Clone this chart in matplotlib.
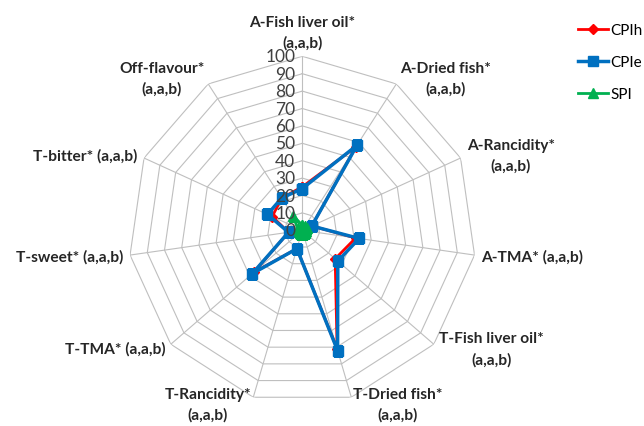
import numpy as np
import matplotlib
matplotlib.use("Agg")
import matplotlib.pyplot as plt
from matplotlib.transforms import offset_copy

plt.rcParams['font.family'] = ['Lato', 'DejaVu Sans']

categories = ['A-Fish liver oil*\n(a,a,b)', 'A-Dried fish*\n(a,a,b)', 'A-Rancidity*\n(a,a,b)',
              'A-TMA* (a,a,b)', 'T-Fish liver oil*\n(a,a,b)', 'T-Dried fish*\n(a,a,b)',
              'T-Rancidity*\n(a,a,b)', 'T-TMA* (a,a,b)', 'T-sweet* (a,a,b)',
              'T-bitter* (a,a,b)', 'Off-flavour*\n(a,a,b)']
cpih = [25, 57, 6, 31, 25, 71, 11, 37, 8, 19, 22]
cpie = [24, 58, 6, 33, 27, 72, 11, 38, 8, 22, 22]
spi = [3, 3, 3, 2, 2, 2, 2, 2, 2, 3, 10]
ticks = list(range(0, 101, 10))

n = len(categories)
theta = np.linspace(0, 2 * np.pi, n, endpoint=False)
tc = np.append(theta, theta[0])

def close(v):
    return list(v) + [v[0]]

fig = plt.figure(figsize=(6.44, 4.27), dpi=100)
ax = fig.add_axes([0.1992, 0.0508, 0.5404, 0.815], projection='polar')
ax.set_theta_zero_location('N')
ax.set_theta_direction(-1)
ax.set_ylim(0, 100)
ax.grid(False)
ax.spines['polar'].set_visible(False)
ax.set_xticks([])
ax.set_yticks([])
ax.patch.set_alpha(0)

# polygon grid
for t in ticks[1:]:
    ax.plot(tc, [t] * (n + 1), color='#BFBFBF', lw=0.8, zorder=1)
for a in theta:
    ax.plot([a, a], [0, 100], color='#BFBFBF', lw=0.8, zorder=1)

# value labels along the top axis
tr = offset_copy(ax.transData, fig=fig, x=-5, y=0, units='points')
for t in ticks:
    ax.text(0, t, str(t), transform=tr, ha='right', va='center', fontsize=12.5,
            color='#404040', zorder=5)

# category labels
for a, lab in zip(theta, categories):
    s = np.sin(a)
    if abs(s) < 0.1:
        ax.text(a, 104, lab, ha='center', va='bottom', fontsize=11.2,
                fontweight='bold', multialignment='center', color='#262626',
                linespacing=1.55)
    else:
        ax.text(a, 104, lab, ha='left' if s > 0 else 'right', va='center',
                fontsize=11.2, fontweight='bold', multialignment='center',
                color='#262626', linespacing=1.55)

ax.plot(tc, close(cpih), color='#FF0000', lw=2, marker='D', ms=5, label='CPIh', zorder=3)
ax.plot(tc, close(cpie), color='#0070C0', lw=2.5, marker='s', ms=7, label='CPIe', zorder=4)
ax.plot(tc, close(spi), color='#00B050', lw=2, marker='^', ms=7, label='SPI', zorder=4)

fig.legend(loc='upper left', bbox_to_anchor=(0.897, 0.944), frameon=False,
           fontsize=11, handlelength=2.0, labelspacing=1.18, handletextpad=0.15,
           borderpad=0, borderaxespad=0)

fig.savefig('out.png', dpi=100)
